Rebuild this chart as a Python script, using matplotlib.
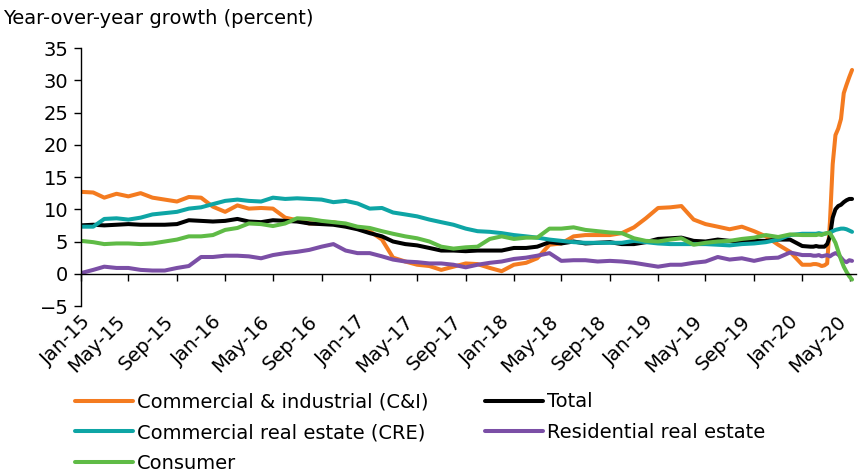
import numpy as np
import pandas as pd
import matplotlib
matplotlib.use("Agg")
import matplotlib.pyplot as plt
import matplotlib.dates as mdates

# reference text is wide, DejaVu gets closer to its extents than Arial metrics
plt.rcParams['font.family'] = ['DejaVu Sans']
FS = 14

# ---------------- DATA ----------------
# monthly readings Jan-15 .. Jan-20, then weekly to early May-20
month_dates = pd.date_range("2015-01-01", "2020-01-01", freq="MS")
week_dates = pd.date_range("2020-01-22", "2020-05-06", freq="7D")

ci_month = [12.7, 12.6, 11.8, 12.4, 12.0, 12.5, 11.8, 11.5, 11.2, 11.9,
            11.8, 10.4, 9.6, 10.6, 10.1, 10.2, 10.1, 8.7, 8.3, 7.8,
            7.8, 8.0, 7.6, 7.1, 6.6, 5.3, 2.5, 1.9, 1.4, 1.2,
            0.6, 1.1, 1.6, 1.5, 0.9, 0.4, 1.4, 1.7, 2.4, 4.5,
            4.7, 5.8, 6.0, 6.0, 6.0, 6.3, 7.2, 8.6, 10.2, 10.3,
            10.5, 8.4, 7.7, 7.3, 6.9, 7.3, 6.6, 5.8, 4.5, 3.4,
            1.4]
ci_week = [1.4, 1.5, 1.5, 1.4, 1.2, 1.3, 1.6, 8.0, 17.0, 21.5,
           22.5, 24.0, 28.0, 29.3, 30.5, 31.6]

total_month = [7.5, 7.6, 7.5, 7.6, 7.7, 7.6, 7.6, 7.6, 7.7, 8.3,
               8.2, 8.1, 8.2, 8.5, 8.1, 8.0, 8.3, 8.2, 8.1, 7.8,
               7.7, 7.6, 7.3, 6.9, 6.3, 5.8, 5.0, 4.6, 4.4, 4.0,
               3.6, 3.6, 3.5, 3.6, 3.6, 3.6, 4.0, 4.0, 4.2, 4.9,
               4.7, 5.0, 4.7, 4.8, 4.9, 4.6, 4.6, 4.9, 5.4, 5.5,
               5.6, 5.1, 5.0, 5.3, 5.1, 5.0, 5.1, 5.1, 5.3, 5.3,
               4.3]
total_week = [4.2, 4.2, 4.3, 4.2, 4.2, 4.2, 4.6, 5.8, 8.7, 10.0,
              10.5, 10.7, 11.1, 11.4, 11.6, 11.6]

cre_month = [7.3, 7.3, 8.5, 8.6, 8.4, 8.7, 9.2, 9.4, 9.6, 10.1,
             10.3, 10.8, 11.3, 11.5, 11.3, 11.2, 11.8, 11.6, 11.7, 11.6,
             11.5, 11.1, 11.3, 10.9, 10.1, 10.2, 9.5, 9.2, 8.9, 8.4,
             8.0, 7.6, 7.0, 6.6, 6.5, 6.3, 6.0, 5.8, 5.6, 5.3,
             5.1, 4.9, 4.8, 4.8, 4.8, 4.8, 5.1, 4.9, 4.7, 4.6,
             4.6, 4.6, 4.6, 4.5, 4.4, 4.6, 4.7, 4.9, 5.3, 6.0,
             6.2]
cre_week = [6.2, 6.2, 6.2, 6.3, 6.2, 6.2, 6.3, 6.4, 6.6, 6.8,
            6.9, 7.0, 7.0, 6.9, 6.7, 6.5]

resid_month = [0.1, 0.6, 1.1, 0.9, 0.9, 0.6, 0.5, 0.5, 0.9, 1.2,
               2.6, 2.6, 2.8, 2.8, 2.7, 2.4, 2.9, 3.2, 3.4, 3.7,
               4.2, 4.6, 3.6, 3.2, 3.2, 2.7, 2.2, 1.9, 1.8, 1.6,
               1.6, 1.4, 1.0, 1.4, 1.7, 1.9, 2.3, 2.5, 2.8, 3.2,
               2.0, 2.1, 2.1, 1.9, 2.0, 1.9, 1.7, 1.4, 1.1, 1.4,
               1.4, 1.7, 1.9, 2.6, 2.2, 2.4, 2.0, 2.4, 2.5, 3.3,
               2.9]
resid_week = [2.9, 2.8, 2.8, 2.9, 2.7, 2.8, 2.9, 2.7, 3.0, 3.2,
              3.0, 2.5, 2.0, 1.8, 2.1, 2.0]

cons_month = [5.1, 4.9, 4.6, 4.7, 4.7, 4.6, 4.7, 5.0, 5.3, 5.8,
              5.8, 6.0, 6.8, 7.1, 7.8, 7.7, 7.4, 7.8, 8.6, 8.5,
              8.2, 8.0, 7.8, 7.3, 7.1, 6.6, 6.2, 5.8, 5.5, 5.0,
              4.2, 3.9, 4.1, 4.2, 5.4, 5.8, 5.4, 5.6, 5.6, 7.0,
              7.0, 7.2, 6.8, 6.6, 6.4, 6.3, 5.5, 5.1, 5.0, 5.3,
              5.5, 4.5, 4.8, 5.0, 5.1, 5.4, 5.6, 6.0, 5.7, 6.1,
              6.0]
cons_week = [6.0, 6.0, 6.0, 6.1, 6.0, 6.2, 6.3, 6.3, 5.6, 4.8,
             3.5, 2.2, 1.1, 0.3, -0.4, -0.9]

dates = month_dates.append(week_dates)
df = pd.DataFrame({
    "Commercial & industrial (C&I)": ci_month + ci_week,
    "Total": total_month + total_week,
    "Commercial real estate (CRE)": cre_month + cre_week,
    "Residential real estate": resid_month + resid_week,
    "Consumer": cons_month + cons_week,
}, index=dates)

colors = {
    "Commercial & industrial (C&I)": "#F47B20",
    "Total": "#000000",
    "Commercial real estate (CRE)": "#0EA5A5",
    "Residential real estate": "#7B4FA6",
    "Consumer": "#5FBB46",
}

# ---------------- PLOT ----------------
fig = plt.figure(figsize=(8.65, 4.74), dpi=100)
ax = fig.add_axes([0.0936, 0.3544, 0.896, 0.5443])

lines = {}
for name in df.columns:
    lines[name], = ax.plot(df.index, df[name], color=colors[name], lw=2.9,
                           solid_capstyle="round", label=name)

ax.set_ylim(-5, 35)
ax.set_yticks(np.arange(-5, 36, 5))
ax.set_xlim(pd.Timestamp("2015-01-01"), pd.Timestamp("2020-05-16"))

for s in ["top", "right"]:
    ax.spines[s].set_visible(False)
ax.spines["left"].set_linewidth(1.0)
ax.spines["bottom"].set_position(("data", 0))
ax.spines["bottom"].set_linewidth(1.0)

loc = mdates.MonthLocator(bymonth=[1, 5, 9])
ax.xaxis.set_major_locator(loc)
ax.tick_params(axis="x", direction="out", length=5, width=1, labelbottom=False)
ax.tick_params(axis="y", direction="out", length=5, width=1, labelsize=FS, pad=4)

# labels sit below the plot, not on the zero line
sec = ax.secondary_xaxis("bottom")
sec.xaxis.set_major_locator(loc)
sec.xaxis.set_major_formatter(mdates.DateFormatter("%b-%y"))
sec.spines["bottom"].set_visible(False)
sec.tick_params(axis="x", length=0, labelsize=FS, pad=4)
for lab in sec.get_xticklabels():
    lab.set_rotation(45)
    lab.set_ha("right")
    lab.set_rotation_mode("anchor")

fig.text(0.003, 0.982, "Year-over-year growth (percent)", fontsize=FS,
         ha="left", va="top")

order = ["Commercial & industrial (C&I)", "Commercial real estate (CRE)",
         "Consumer", "Total", "Residential real estate"]
fig.legend([lines[n] for n in order], order, ncol=2, frameon=False,
           loc="upper left", bbox_to_anchor=(0.087, 0.172), fontsize=FS,
           handlelength=2.95, handletextpad=0.2, columnspacing=2.95,
           labelspacing=0.6, borderaxespad=0, borderpad=0)

fig.savefig("out.png", dpi=100)
